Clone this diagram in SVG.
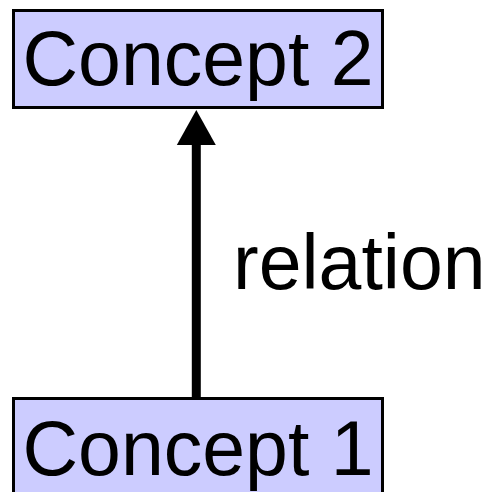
<svg xmlns="http://www.w3.org/2000/svg" width="491" height="492" viewBox="0 0 491 492">
<style>
.box{fill:#ccccff;stroke:#000;stroke-width:3}
.lbl{font-family:"Liberation Sans",Arial,sans-serif;font-size:77px;fill:#000}
</style>
<rect width="491" height="492" fill="#fff"/>
<g id="connectors">
<line x1="196.3" y1="397" x2="196.3" y2="140" stroke="#000" stroke-width="9"/>
<path d="M196.3,110 L215.8,145 L176.8,145 Z" fill="#000"/>
<text class="lbl" x="233" y="289">relation</text>
</g>
<g id="concept2">
<rect class="box" x="13.5" y="10.5" width="369" height="97"/>
<text class="lbl" x="198" y="85" text-anchor="middle">Concept 2</text>
</g>
<g id="concept1">
<rect class="box" x="13.5" y="398.5" width="369" height="110"/>
<text class="lbl" x="198" y="475" text-anchor="middle">Concept 1</text>
</g>
</svg>
